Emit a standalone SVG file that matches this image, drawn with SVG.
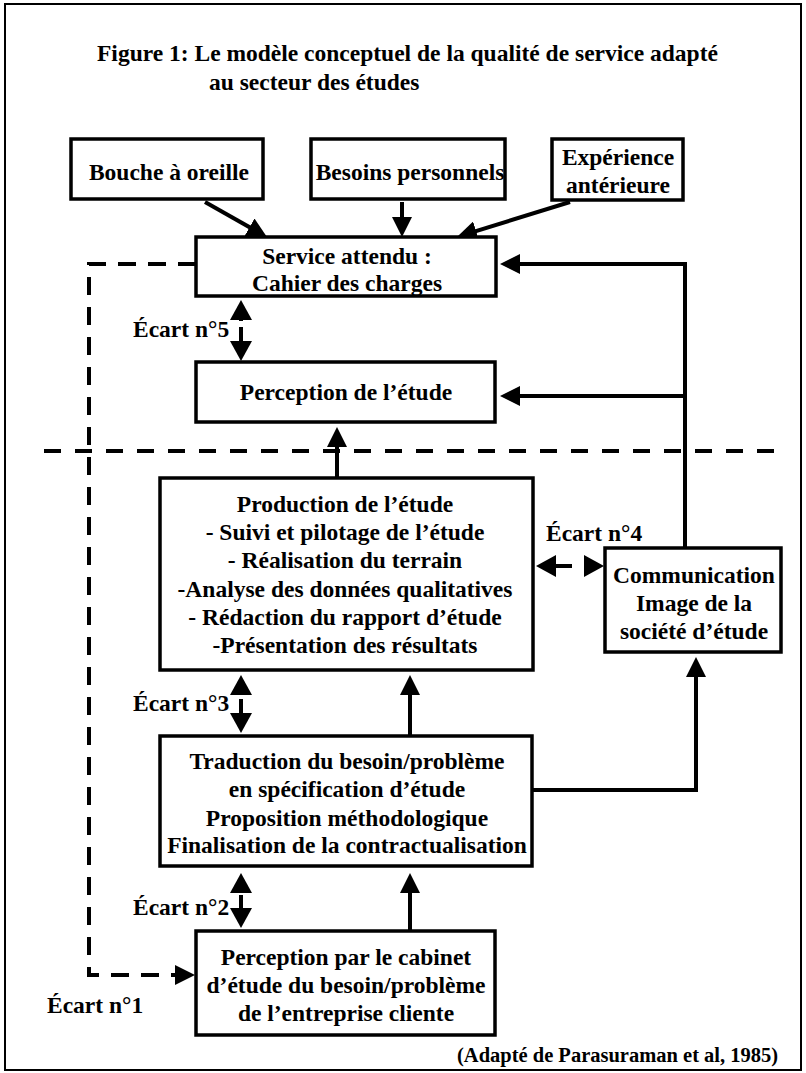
<svg xmlns="http://www.w3.org/2000/svg" width="806" height="1073" viewBox="0 0 806 1073">
<style>
  text { font-family: "Liberation Serif", "Times New Roman", serif; font-weight: bold; font-size: 23.5px; fill: #000; }
  .c { text-anchor: middle; }
  .box { fill: #fff; stroke: #000; stroke-width: 3.5; }
  .con { fill: none; stroke: #000; stroke-width: 4; }
  .dash { fill: none; stroke: #000; stroke-width: 4; stroke-dasharray: 18 12; }
  .src { font-size: 20.5px; }
</style>
<defs>
  <marker id="ah" markerUnits="userSpaceOnUse" viewBox="0 0 20 20" refX="12" refY="10" markerWidth="20" markerHeight="20" orient="auto">
    <path d="M0,0 L20,10 L0,20 Z" fill="#000"/>
  </marker>
  <marker id="ahw" markerUnits="userSpaceOnUse" viewBox="0 0 20 22" refX="12" refY="11" markerWidth="20" markerHeight="22" orient="auto">
    <path d="M0,0 L20,11 L0,22 Z" fill="#000"/>
  </marker>
</defs>
<rect x="5" y="4" width="796" height="1066" fill="#fff" stroke="#000" stroke-width="2"/>
<g id="title">
  <text x="97" y="61">Figure 1: Le modèle conceptuel de la qualité de service adapté</text>
  <text x="209" y="90">au secteur des études</text>
</g>
<g id="connectors">
  <path class="con" d="M205,202 L260,233.1" marker-end="url(#ah)"/>
  <path class="con" d="M402,202 V229" marker-end="url(#ah)"/>
  <path class="con" d="M570,202 L464.6,234.6" marker-end="url(#ah)"/>
  <path class="con" d="M685,548 V264 H508" marker-end="url(#ah)"/>
  <path class="con" d="M685,396 H508" marker-end="url(#ah)"/>
  <path class="con" d="M533,790 H696 V665" marker-end="url(#ah)"/>
  <path class="con" d="M337,478 V435" marker-end="url(#ah)"/>
  <path class="con" d="M410,736 V683" marker-end="url(#ah)"/>
  <path class="con" d="M410,931 V881" marker-end="url(#ah)"/>
  <path class="dash" d="M196,264 H89 V975 H187" marker-end="url(#ah)"/>
  <line x1="44" y1="451" x2="775" y2="451" style="stroke:#000;stroke-width:4;stroke-dasharray:17 14"/>
  <path class="con" d="M241,321 V308" marker-end="url(#ahw)"/>
  <path class="con" d="M241,327 V353" marker-end="url(#ahw)"/>
  <path class="con" d="M241,694 V683" marker-end="url(#ahw)"/>
  <path class="con" d="M241,699 V725" marker-end="url(#ahw)"/>
  <path class="con" d="M241,890 V881" marker-end="url(#ahw)"/>
  <path class="con" d="M241,895 V920" marker-end="url(#ahw)"/>
  <path class="con" d="M572,566 H544" marker-end="url(#ahw)"/>
  <path class="con" d="M584,566 H596" marker-end="url(#ahw)"/>
</g>
<g id="bouche">
  <rect class="box" x="71" y="139" width="192" height="60"/>
  <text class="c" x="169" y="180">Bouche à oreille</text>
</g>
<g id="besoins">
  <rect class="box" x="311" y="139" width="194" height="60"/>
  <text class="c" x="410" y="180">Besoins personnels</text>
</g>
<g id="experience">
  <rect class="box" x="552" y="139" width="131" height="61"/>
  <text class="c" x="618" y="165">Expérience</text>
  <text class="c" x="618" y="193">antérieure</text>
</g>
<g id="service">
  <rect class="box" x="196" y="237" width="300" height="59"/>
  <text class="c" x="347" y="264">Service attendu :</text>
  <text class="c" x="347" y="291">Cahier des charges</text>
</g>
<g id="perception">
  <rect class="box" x="196" y="362" width="299" height="60"/>
  <text class="c" x="346" y="400">Perception de l’étude</text>
</g>
<g id="production">
  <rect class="box" x="160" y="478" width="373" height="192"/>
  <text class="c" x="345" y="512">Production de l’étude</text>
  <text class="c" x="345" y="540">- Suivi et pilotage de l’étude</text>
  <text class="c" x="345" y="568">- Réalisation du terrain</text>
  <text class="c" x="345" y="597">-Analyse des données qualitatives</text>
  <text class="c" x="345" y="625">- Rédaction du rapport d’étude</text>
  <text class="c" x="345" y="653">-Présentation des résultats</text>
</g>
<g id="communication">
  <rect class="box" x="605" y="548" width="176" height="104"/>
  <text class="c" x="694" y="583">Communication</text>
  <text class="c" x="694" y="611">Image de la</text>
  <text class="c" x="694" y="639">société d’étude</text>
</g>
<g id="traduction">
  <rect class="box" x="160" y="736" width="372" height="130"/>
  <text class="c" x="347" y="769">Traduction du besoin/problème</text>
  <text class="c" x="347" y="797">en spécification d’étude</text>
  <text class="c" x="347" y="826">Proposition méthodologique</text>
  <text class="c" x="347" y="853">Finalisation de la contractualisation</text>
</g>
<g id="perception-cabinet">
  <rect class="box" x="196" y="931" width="299" height="104"/>
  <text class="c" x="346" y="965">Perception par le cabinet</text>
  <text class="c" x="346" y="993">d’étude du besoin/problème</text>
  <text class="c" x="346" y="1021">de l’entreprise cliente</text>
</g>
<g id="labels">
  <text x="133" y="337">Écart n°5</text>
  <text x="546" y="541">Écart n°4</text>
  <text x="133" y="711">Écart n°3</text>
  <text x="133" y="915">Écart n°2</text>
  <text x="47" y="1013">Écart n°1</text>
  <text class="src" x="457" y="1062">(Adapté de Parasuraman et al, 1985)</text>
</g>
</svg>
